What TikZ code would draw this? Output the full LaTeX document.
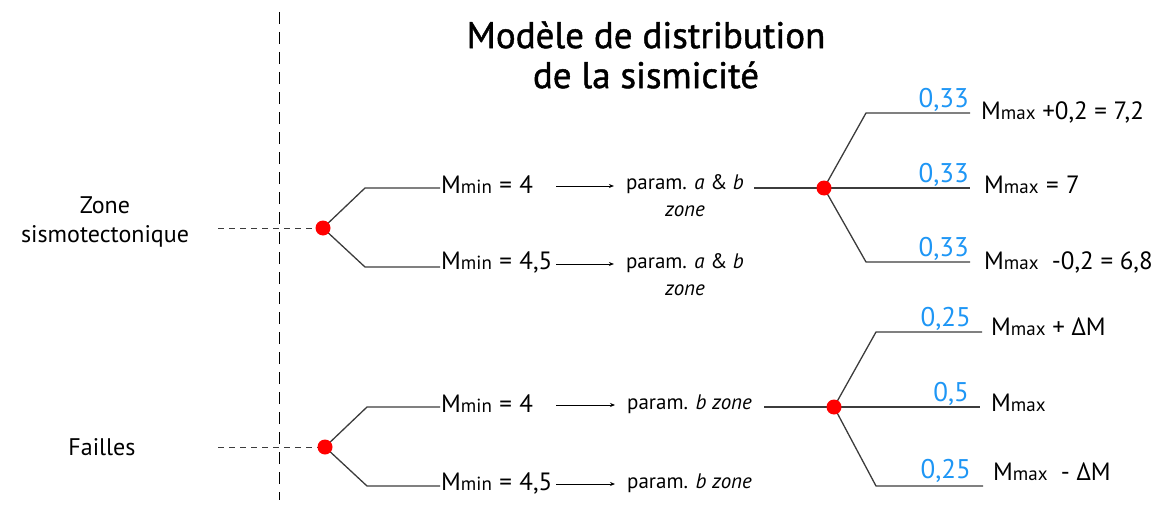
\documentclass[tikz,border=0pt]{standalone}
\usepackage{fontspec}
\setmainfont{PT Sans}
\newfontfamily\titlefont[FakeBold=1.2]{PT Sans}
\usetikzlibrary{arrows.meta}
\definecolor{probblue}{RGB}{30,150,245}
\definecolor{linegray}{RGB}{60,60,60}
\tikzset{
  br/.style={draw=linegray, line width=1.3pt},
  dot/.style={circle, fill=red, inner sep=0pt, minimum size=15pt},
  lbl/.style={font=\fontsize{25}{28}\selectfont, inner sep=1pt, anchor=west},
  par/.style={font=\fontsize{21}{27}\selectfont, inner sep=1pt, align=center},
  prob/.style={font=\fontsize{27}{28}\selectfont, text=probblue, inner sep=1pt, anchor=south east},
  zlbl/.style={font=\fontsize{24}{29}\selectfont, align=center, inner sep=0pt},
  arr/.style={draw=black, line width=0.8pt, shorten >=11pt, -{Stealth[length=5pt,width=4pt]}},
  dsh/.style={draw=linegray, line width=1pt, dash pattern=on 6pt off 5pt},
}
\newcommand{\Mm}[1]{M{\fontsize{19}{20}\selectfont #1}}
\newcommand{\eqs}{\hspace{0.3em}=\hspace{0.3em}}
\begin{document}
\begin{tikzpicture}[x=1pt,y=-1pt]
\useasboundingbox (0,0) rectangle (1151,511);
% title
\node[font=\titlefont\fontsize{37}{40}\selectfont, align=center] (title) at (646,55) {Modèle de distribution\\de la sismicité};
% vertical dashed line
\coordinate (vt) at (279,12);
\coordinate (vb) at (279,500);
\draw[draw=black, line width=1pt, dash pattern=on 12pt off 8pt] (vt) -- (vb);
% left labels
\node[zlbl] (zone) at (105,222) {Zone\\sismotectonique};
\node[zlbl] (fail) at (102,447) {Failles};
% ---- upper tree ----
\coordinate (d1) at (323,228);
\coordinate (s1) at (218,228);
\draw[dsh] (s1) -- (d1);
\coordinate (c1a) at (365,188);
\coordinate (c1b) at (365,267);
\node[lbl] (m1a) at (440,185) {\Mm{min}\eqs 4};
\node[lbl] (m1b) at (440,262) {\Mm{min}\eqs 4,5};
\draw[br] (d1) -- (c1a) -- (c1a -| m1a.west);
\draw[br] (d1) -- (c1b) -- (c1b -| m1b.west);
\node[par, anchor=north] (p1a) at (685,173) {param. \textit{a} \& \textit{b}\\\textit{zone}};
\node[par, anchor=north] (p1b) at (685,252) {param. \textit{a} \& \textit{b}\\\textit{zone}};
\coordinate (a1a) at (556,186);
\coordinate (a1b) at (556,264);
\draw[arr] (a1a) -- (a1a -| p1a.west);
\draw[arr] (a1b) -- (a1b -| p1b.west);
\coordinate (e1) at (824,188);
\coordinate (l1) at (754,188);
\draw[br] (l1) -- (e1);
\coordinate (k1a) at (866,113);
\coordinate (k1c) at (866,262);
\coordinate (r1a) at (970,113);
\coordinate (r1b) at (970,188);
\coordinate (r1c) at (970,262);
\draw[br] (e1) -- (k1a) -- (r1a);
\draw[br] (e1) -- (r1b);
\draw[br] (e1) -- (k1c) -- (r1c);
\node[dot] (e1dot) at (e1) {};
\node[dot] (d1dot) at (d1) {};
\node[prob] (q1a) at (r1a) {0,33};
\node[prob] (q1b) at (r1b) {0,33};
\node[prob] (q1c) at (r1c) {0,33};
\node[lbl] (x1a) at (980,112) {\Mm{max} +0,2 = 7,2};
\node[lbl] (x1b) at (983,185) {\Mm{max}\eqs 7};
\node[lbl] (x1c) at (983,262) {\Mm{max}~~-0,2 = 6,8};
% ---- lower tree ----
\coordinate (d2) at (325,447);
\coordinate (s2) at (218,447);
\draw[dsh] (s2) -- (d2);
\coordinate (c2a) at (367,407);
\coordinate (c2b) at (367,486);
\node[lbl] (m2a) at (440,404) {\Mm{min}\eqs 4};
\node[lbl] (m2b) at (440,483) {\Mm{min}\eqs 4,5};
\draw[br] (d2) -- (c2a) -- (c2a -| m2a.west);
\draw[br] (d2) -- (c2b) -- (c2b -| m2b.west);
\node[par, anchor=west] (p2a) at (626,404) {param. \textit{b zone}};
\node[par, anchor=west] (p2b) at (626,483) {param. \textit{b zone}};
\coordinate (a2a) at (556,405);
\coordinate (a2b) at (556,484);
\draw[arr] (a2a) -- (a2a -| p2a.west);
\draw[arr] (a2b) -- (a2b -| p2b.west);
\coordinate (e2) at (834,407);
\coordinate (l2) at (764,407);
\draw[br] (l2) -- (e2);
\coordinate (k2a) at (876,332);
\coordinate (k2c) at (876,486);
\coordinate (r2a) at (982,332);
\coordinate (r2b) at (980,407);
\coordinate (r2c) at (983,486);
\draw[br] (e2) -- (k2a) -- (r2a);
\draw[br] (e2) -- (r2b);
\draw[br] (e2) -- (k2c) -- (r2c);
\node[dot] (e2dot) at (e2) {};
\node[dot] (d2dot) at (d2) {};
\node[prob] (q2a) at (972,332) {0,25};
\node[prob] (q2b) at (970,407) {0,5};
\node[prob] (q2c) at (972,484) {0,25};
\node[lbl] (x2a) at (990,327) {\Mm{max} + ΔM};
\node[lbl] (x2b) at (990,403) {\Mm{max}};
\node[lbl] (x2c) at (992,472) {\Mm{max}~~- ΔM};
\end{tikzpicture}
\end{document}
